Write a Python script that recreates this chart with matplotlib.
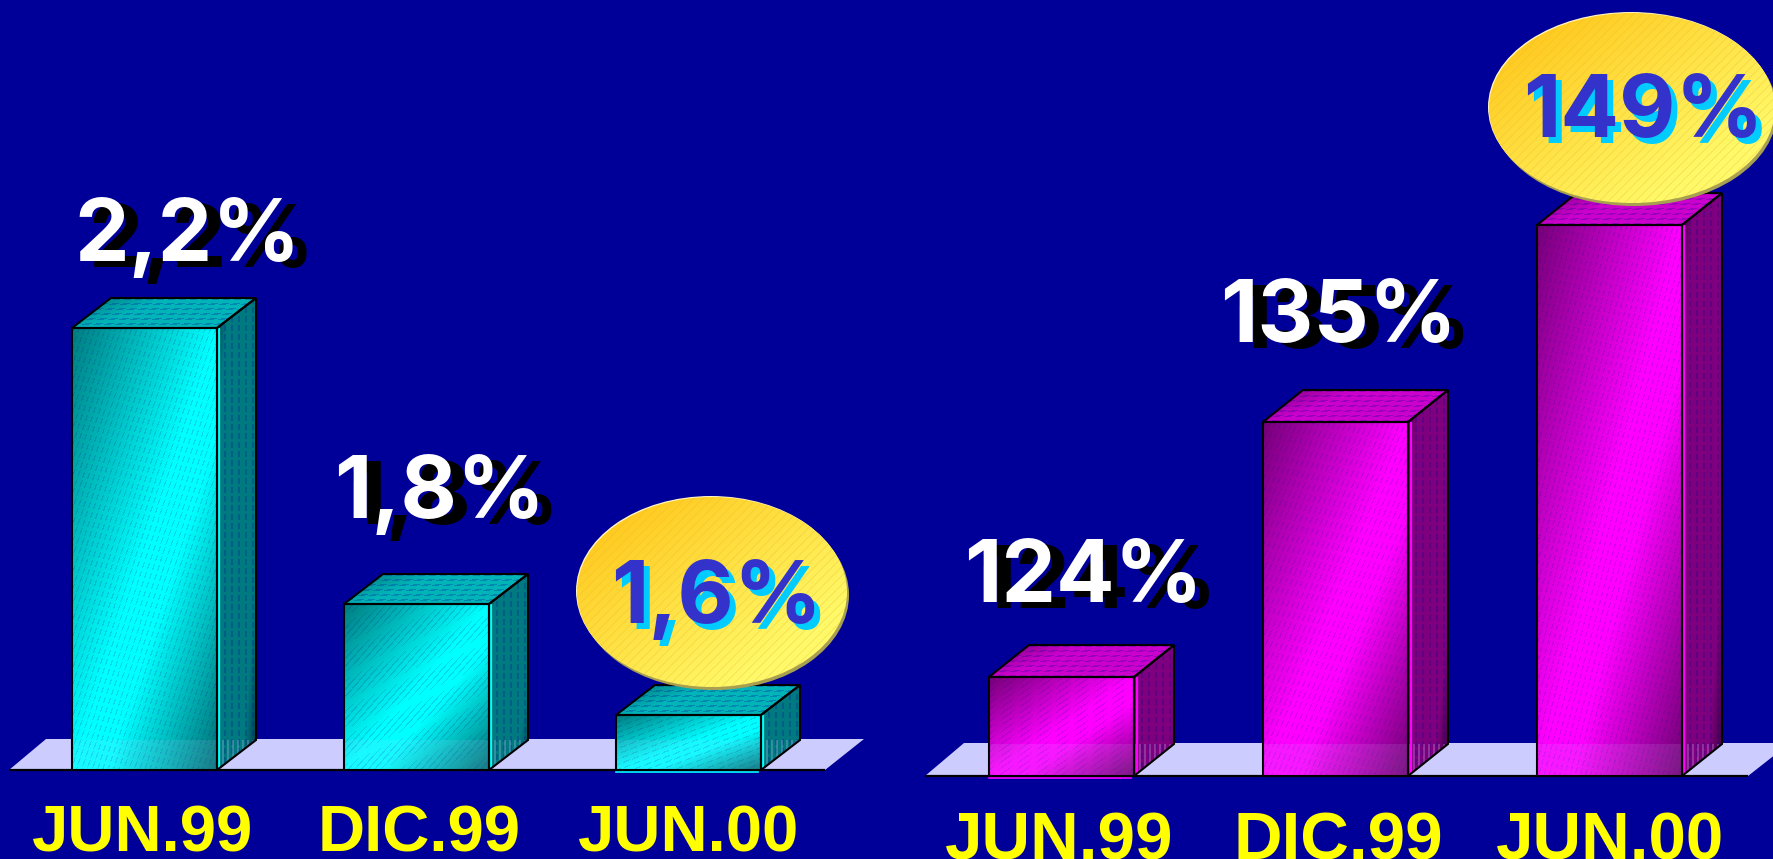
import matplotlib
matplotlib.use('Agg')
import matplotlib.pyplot as plt
from matplotlib.colors import to_rgb
from matplotlib.patches import Polygon, Ellipse
import numpy as np

# Data (no axis is shown, heights are in image pixels)
categories_left = ['JUN.99', 'DIC.99', 'JUN.00']
values_left = [2.2, 1.8, 1.6]
heights_left = [442, 166, 55]

categories_right = ['JUN.99', 'DIC.99', 'JUN.00']
values_right = [124, 135, 149]
heights_right = [99, 354, 551]

W, H = 1774, 859
BG = '#000099'
FLOOR = '#CCCCFF'

fig = plt.figure(figsize=(W / 100, H / 100), dpi=100, facecolor=BG)


def page_axes(zorder):
    ax = fig.add_axes([0, 0, 1, 1], zorder=zorder)
    ax.set_xlim(0, W)
    ax.set_ylim(H, 0)
    ax.axis('off')
    return ax


def mix(t, stops, colors):
    arr = np.array([to_rgb(c) for c in colors])
    return np.stack([np.interp(t, stops, arr[:, k]) for k in range(3)], -1)


def grid(w, h):
    px, py = np.meshgrid(np.arange(max(int(w), 1)), np.arange(max(int(h), 1)))
    return px, py


def tint(img, mask, color, amount):
    img[mask] = img[mask] * (1 - amount) + np.array(to_rgb(color)) * amount


def front_image(w, h, dark, bright, end, floor_h):
    px, py = grid(w, h)
    t = (px / w + py / h) / 2
    img = mix(t, [0, 0.5, 0.62, 1], [dark, bright, bright, end])
    # fine broken stripes running along the shading
    slope = np.hypot(1 / (2 * w), 1 / (2 * h))
    stripes = (np.sin(2 * np.pi * t / (slope * 5)) > 0.7) & ((px + py) % 6 < 4)
    tint(img, stripes, BG, 0.14)
    low = py >= h - floor_h
    tint(img, low, FLOOR, 0.12)
    return img


def side_image(w, h, edge, mid, floor_h):
    px, py = grid(w, h)
    t = (px / w + py / h) / 2
    img = mix(t, [0, 0.14, 0.8, 1], [edge, mid, mid, edge])
    tint(img, (px % 7 < 2) & (py % 9 < 6), BG, 0.22)
    tint(img, (py >= h - floor_h) & (px % 5 < 2), FLOOR, 0.25)
    return img


def top_image(w, h, edge, mid):
    px, py = grid(w, h)
    t = px / w * 0.7 + py / h * 0.3
    img = mix(t, [0, 0.35, 1], [edge, mid, mid])
    tint(img, (py % 5 < 2) & ((px + 3 * py) % 11 < 7), BG, 0.24)
    return img


def face(ax, img, x0, x1, y0, y1, corners):
    im = ax.imshow(img, extent=(x0, x1, y0, y1), aspect='auto',
                   interpolation='nearest', zorder=2)
    clip = Polygon(corners, closed=True, transform=ax.transData, fc='none', ec='none')
    ax.add_patch(clip)
    im.set_clip_path(clip)


def draw_chart(ax, heights, step, left_px, base_px, dx_px, dy, palette):
    half = 72.5 / step
    dx = dx_px / step
    for i, h in enumerate(heights):
        l, r = i - half, i + half
        w_px = 2 * 72.5
        face(ax, front_image(w_px, h, palette['dark'], palette['bright'], palette['end'], dy),
             l, r, 0, h, [(l, 0), (r, 0), (r, h), (l, h)])
        face(ax, side_image(dx_px, h + dy, palette['side_edge'], palette['side'], dy),
             r, r + dx, 0, h + dy,
             [(r, 0), (r + dx, dy), (r + dx, h + dy), (r, h)])
        face(ax, top_image(w_px + dx_px, dy, palette['top_edge'], palette['top']),
             l, r + dx, h, h + dy,
             [(l, h), (r, h), (r + dx, h + dy), (l + dx, h + dy)])
        # bright sliver on the corner of the box
        ax.plot([r + 2.5 / step] * 2, [dy * 0.1, h - 1], color=palette['bright'], lw=1.6, zorder=3)
        if h == min(heights):
            ax.plot([l, r - 3 / step], [-2.2, -2.2], color=palette['bright'], lw=1.2, zorder=3)
        # outlines
        for pts in ([(l, 0), (r, 0), (r, h), (l, h)],
                    [(r, 0), (r + dx, dy), (r + dx, h + dy), (r, h)],
                    [(l, h), (r, h), (r + dx, h + dy), (l + dx, h + dy)]):
            ax.add_patch(Polygon(pts, closed=True, fc='none', ec='black', lw=1.5,
                                 joinstyle='miter', zorder=4))
    ax.set_xlim(-(left_px + 72.5) / step, (W - left_px - 72.5) / step)
    ax.set_ylim(-(H - base_px), base_px)
    ax.axis('off')


def draw_floor(ax, corners, line_x0, line_x1, base_px):
    ax.add_patch(Polygon(corners, closed=True, fc=FLOOR, ec='none'))
    ax.plot([line_x0, line_x1], [base_px, base_px], color='black', lw=1.6, solid_capstyle='butt')


def draw_oval(ax, cx, cy, rx, ry):
    ax.add_patch(Ellipse((cx + 2, cy + 3), 2 * rx, 2 * ry, fc='#A8A050', ec='none', zorder=1))
    ax.add_patch(Ellipse((cx - 1, cy - 1), 2 * rx, 2 * ry, fc='#FFF6C0', ec='none', zorder=1))
    px, py = grid(2 * rx, 2 * ry)
    t = (px / (2 * rx) + py / (2 * ry)) / 2
    img = mix(t, [0.12, 0.8], ['#FFC91E', '#FFFA6A'])
    tint(img, (px + py) % 9 < 2, '#E0B830', 0.22)
    im = ax.imshow(img, extent=(cx - rx, cx + rx, cy + ry, cy - ry), aspect='auto',
                   interpolation='bilinear', zorder=2)
    clip = Ellipse((cx, cy), 2 * rx, 2 * ry, transform=ax.transData, fc='none', ec='none')
    ax.add_patch(clip)
    im.set_clip_path(clip)


def shadow_text(ax, x, y, s, color, shade, off, size):
    ax.text(x + off[0], y + off[1], s, color=shade, fontsize=size, fontweight='bold',
            family='Inter', ha='center', va='baseline', zorder=5)
    ax.text(x, y, s, color=color, fontsize=size, fontweight='bold',
            family='Inter', ha='center', va='baseline', zorder=6)


cyan = dict(dark='#007C80', bright='#00FFFF', end='#006E72', side='#007A80', side_edge='#003C48',
            top='#00B4B8', top_edge='#007478')
magenta = dict(dark='#760078', bright='#FF00FF', end='#6E0070', side='#7E007E', side_edge='#38003C',
               top='#CC00CC', top_edge='#780078')

floor_ax = page_axes(0)
draw_floor(floor_ax, [(9, 770), (825, 770), (864, 739), (46, 739)], 9, 825, 770)
draw_floor(floor_ax, [(925, 776), (1748, 776), (1790, 743), (964, 743)], 925, 1748, 776)

ax_left = fig.add_axes([0, 0, 1, 1], zorder=1)
ax_left.patch.set_alpha(0)
draw_chart(ax_left, heights_left, 272, 72, 770, 39, 30, cyan)

ax_right = fig.add_axes([0, 0, 1, 1], zorder=2)
ax_right.patch.set_alpha(0)
draw_chart(ax_right, heights_right, 274, 989, 776, 40, 32, magenta)

over = page_axes(3)
over.patch.set_alpha(0)
draw_oval(over, 712, 592, 135, 95)
draw_oval(over, 1632, 108, 143, 95)
over.set_xlim(0, W)
over.set_ylim(H, 0)

PCT_SIZE = 62.5
pct_x_left = [188, 440, 717]
pct_y_left = [261, 518, 623]
pct_x_right = [1083, 1339, 1643]
pct_y_right = [602, 342, 137]

for i, v in enumerate(values_left):
    s = f'{v:.1f}'.replace('.', ',') + '%'
    if i == 2:
        shadow_text(over, pct_x_left[i], pct_y_left[i], s, '#3333CC', '#00CCFF', (6, 6), PCT_SIZE)
    else:
        shadow_text(over, pct_x_left[i], pct_y_left[i], s, 'white', 'black', (14, 6), PCT_SIZE)

for i, v in enumerate(values_right):
    s = f'{v}%'
    if i == 2:
        shadow_text(over, pct_x_right[i], pct_y_right[i], s, '#3333CC', '#00CCFF', (6, 6), PCT_SIZE)
    else:
        shadow_text(over, pct_x_right[i], pct_y_right[i], s, 'white', 'black', (14, 6), PCT_SIZE)

cat_x_left = [143, 419, 689]
cat_x_right = [1059, 1338, 1610]
for x, c in zip(cat_x_left, categories_left):
    over.text(x, 851, c, color='#FFFF00', fontsize=47, fontweight='bold', family='Liberation Sans',
              ha='center', va='baseline', zorder=6)
for x, c in zip(cat_x_right, categories_right):
    over.text(x, 860, c, color='#FFFF00', fontsize=48.5, fontweight='bold', family='Liberation Sans',
              ha='center', va='baseline', zorder=6)

fig.savefig('out.png', dpi=100, facecolor=BG)
